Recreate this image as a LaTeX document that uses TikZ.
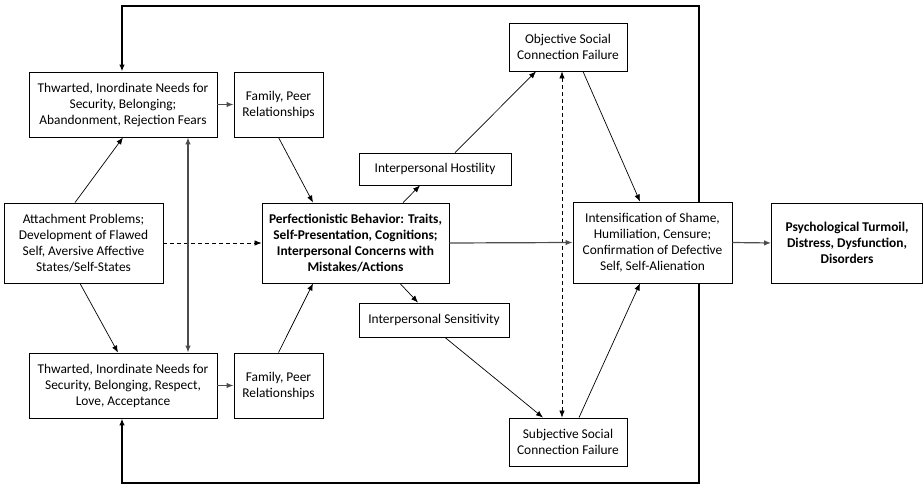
\documentclass[tikz,border=0pt]{standalone}
\usepackage{fontspec}
\setmainfont{Carlito}
\usetikzlibrary{arrows.meta,backgrounds}

\begin{document}
\begin{tikzpicture}[x=1pt,y=-1pt,
    box/.style={draw,line width=0.9pt,fill=white,align=center,inner sep=0pt,font=\fontsize{13.4}{16}\selectfont},
    boldbox/.style={box,font=\fontsize{13.4}{16}\selectfont\bfseries},
    >={Latex[length=7pt,width=5.5pt]},
    arr/.style={->,line width=0.7pt},
    grayarr/.style={->,draw=black!70,line width=1.2pt},
    dasharr/.style={->,line width=0.7pt,dash pattern=on 4pt off 3pt},
    loopline/.style={<->,line width=2pt,line join=miter}]
    \useasboundingbox (0,0) rectangle (924,486);
    % left column
    \node[box,minimum width=188pt,minimum height=65pt] (thwTop) at (123,104.5)
      {Thwarted, Inordinate Needs for\\Security, Belonging;\\Abandonment, Rejection Fears};
    \node[box,minimum width=89pt,minimum height=65pt] (famTop) at (278.5,104.5)
      {Family, Peer\\Relationships};
    \node[box,minimum width=159pt,minimum height=80pt] (attach) at (83.5,243)
      {Attachment Problems;\\Development of Flawed\\Self, Aversive Affective\\States/Self-States};
    \node[box,minimum width=188pt,minimum height=65pt] (thwBot) at (123,385.5)
      {Thwarted, Inordinate Needs for\\Security, Belonging, Respect,\\Love, Acceptance};
    \node[box,minimum width=89pt,minimum height=65pt] (famBot) at (278.5,385.5)
      {Family, Peer\\Relationships};
    % middle
    \node[boldbox,minimum width=187pt,minimum height=80pt] (perf) at (355.5,243)
      {Perfectionistic Behavior: Traits,\\Self-Presentation, Cognitions;\\Interpersonal Concerns with\\Mistakes/Actions};
    \node[box,minimum width=152pt,minimum height=32pt] (hostil) at (435,169)
      {Interpersonal Hostility};
    \node[box,minimum width=150pt,minimum height=34pt] (sensit) at (434,320)
      {Interpersonal Sensitivity};
    \node[box,minimum width=118pt,minimum height=48pt] (objFail) at (568,47)
      {Objective Social\\Connection Failure};
    \node[box,minimum width=118pt,minimum height=48pt] (subjFail) at (568,442)
      {Subjective Social\\Connection Failure};
    % right
    \node[box,minimum width=159pt,minimum height=81pt] (intens) at (652.5,242.5)
      {Intensification of Shame,\\Humiliation, Censure;\\Confirmation of Defective\\Self, Self-Alienation};
    \node[boldbox,minimum width=151pt,minimum height=80pt] (turmoil) at (847,243)
      {Psychological Turmoil,\\Distress, Dysfunction,\\Disorders};

    % connectors
    \draw[arr] ([xshift=-8.5]attach.north) -- (thwTop.south);
    \draw[arr] ([xshift=-3.5]attach.south) -- ([xshift=-5]thwBot.north);
    \draw[dasharr] (attach.east) -- (perf.west);
    \draw[grayarr,<->] ([xshift=65]thwTop.south) -- ([xshift=65]thwBot.north);
    \draw[grayarr] (thwTop.east) -- (famTop.west);
    \draw[grayarr] (thwBot.east) -- (famBot.west);
    \draw[arr] (famTop.south) -- ([xshift=-42.5]perf.north);
    \draw[arr] (famBot.north) -- ([xshift=-42.5]perf.south);
    \draw[arr] ([xshift=47.5]perf.north) -- ([xshift=-15]hostil.south);
    \draw[arr] ([xshift=44.5]perf.south) -- ([xshift=-16]sensit.north);
    \draw[arr] ([xshift=20]hostil.north) -- ([xshift=-32]objFail.south);
    \draw[arr] ([xshift=11]sensit.south) -- ([xshift=-25]subjFail.north);
    \draw[arr] ([xshift=15]objFail.south) -- ([xshift=-12.5]intens.north);
    \draw[arr] ([xshift=11]subjFail.north) -- ([xshift=-12.5]intens.south);
    \draw[dasharr,<->] ([xshift=-6]objFail.south) -- ([xshift=-6]subjFail.north);
    \draw[grayarr] (perf.east) -- (intens.west);
    \draw[grayarr] (intens.east) -- (turmoil.west);

    % feedback loop behind the boxes
    \begin{scope}[on background layer]
      \coordinate (loopTR) at (699,6);
      \coordinate (loopBR) at (699,483);
      \draw[loopline] ([xshift=-1]thwTop.north) |- (loopTR) -- (loopBR) -| ([xshift=-1]thwBot.south);
    \end{scope}
\end{tikzpicture}
\end{document}
